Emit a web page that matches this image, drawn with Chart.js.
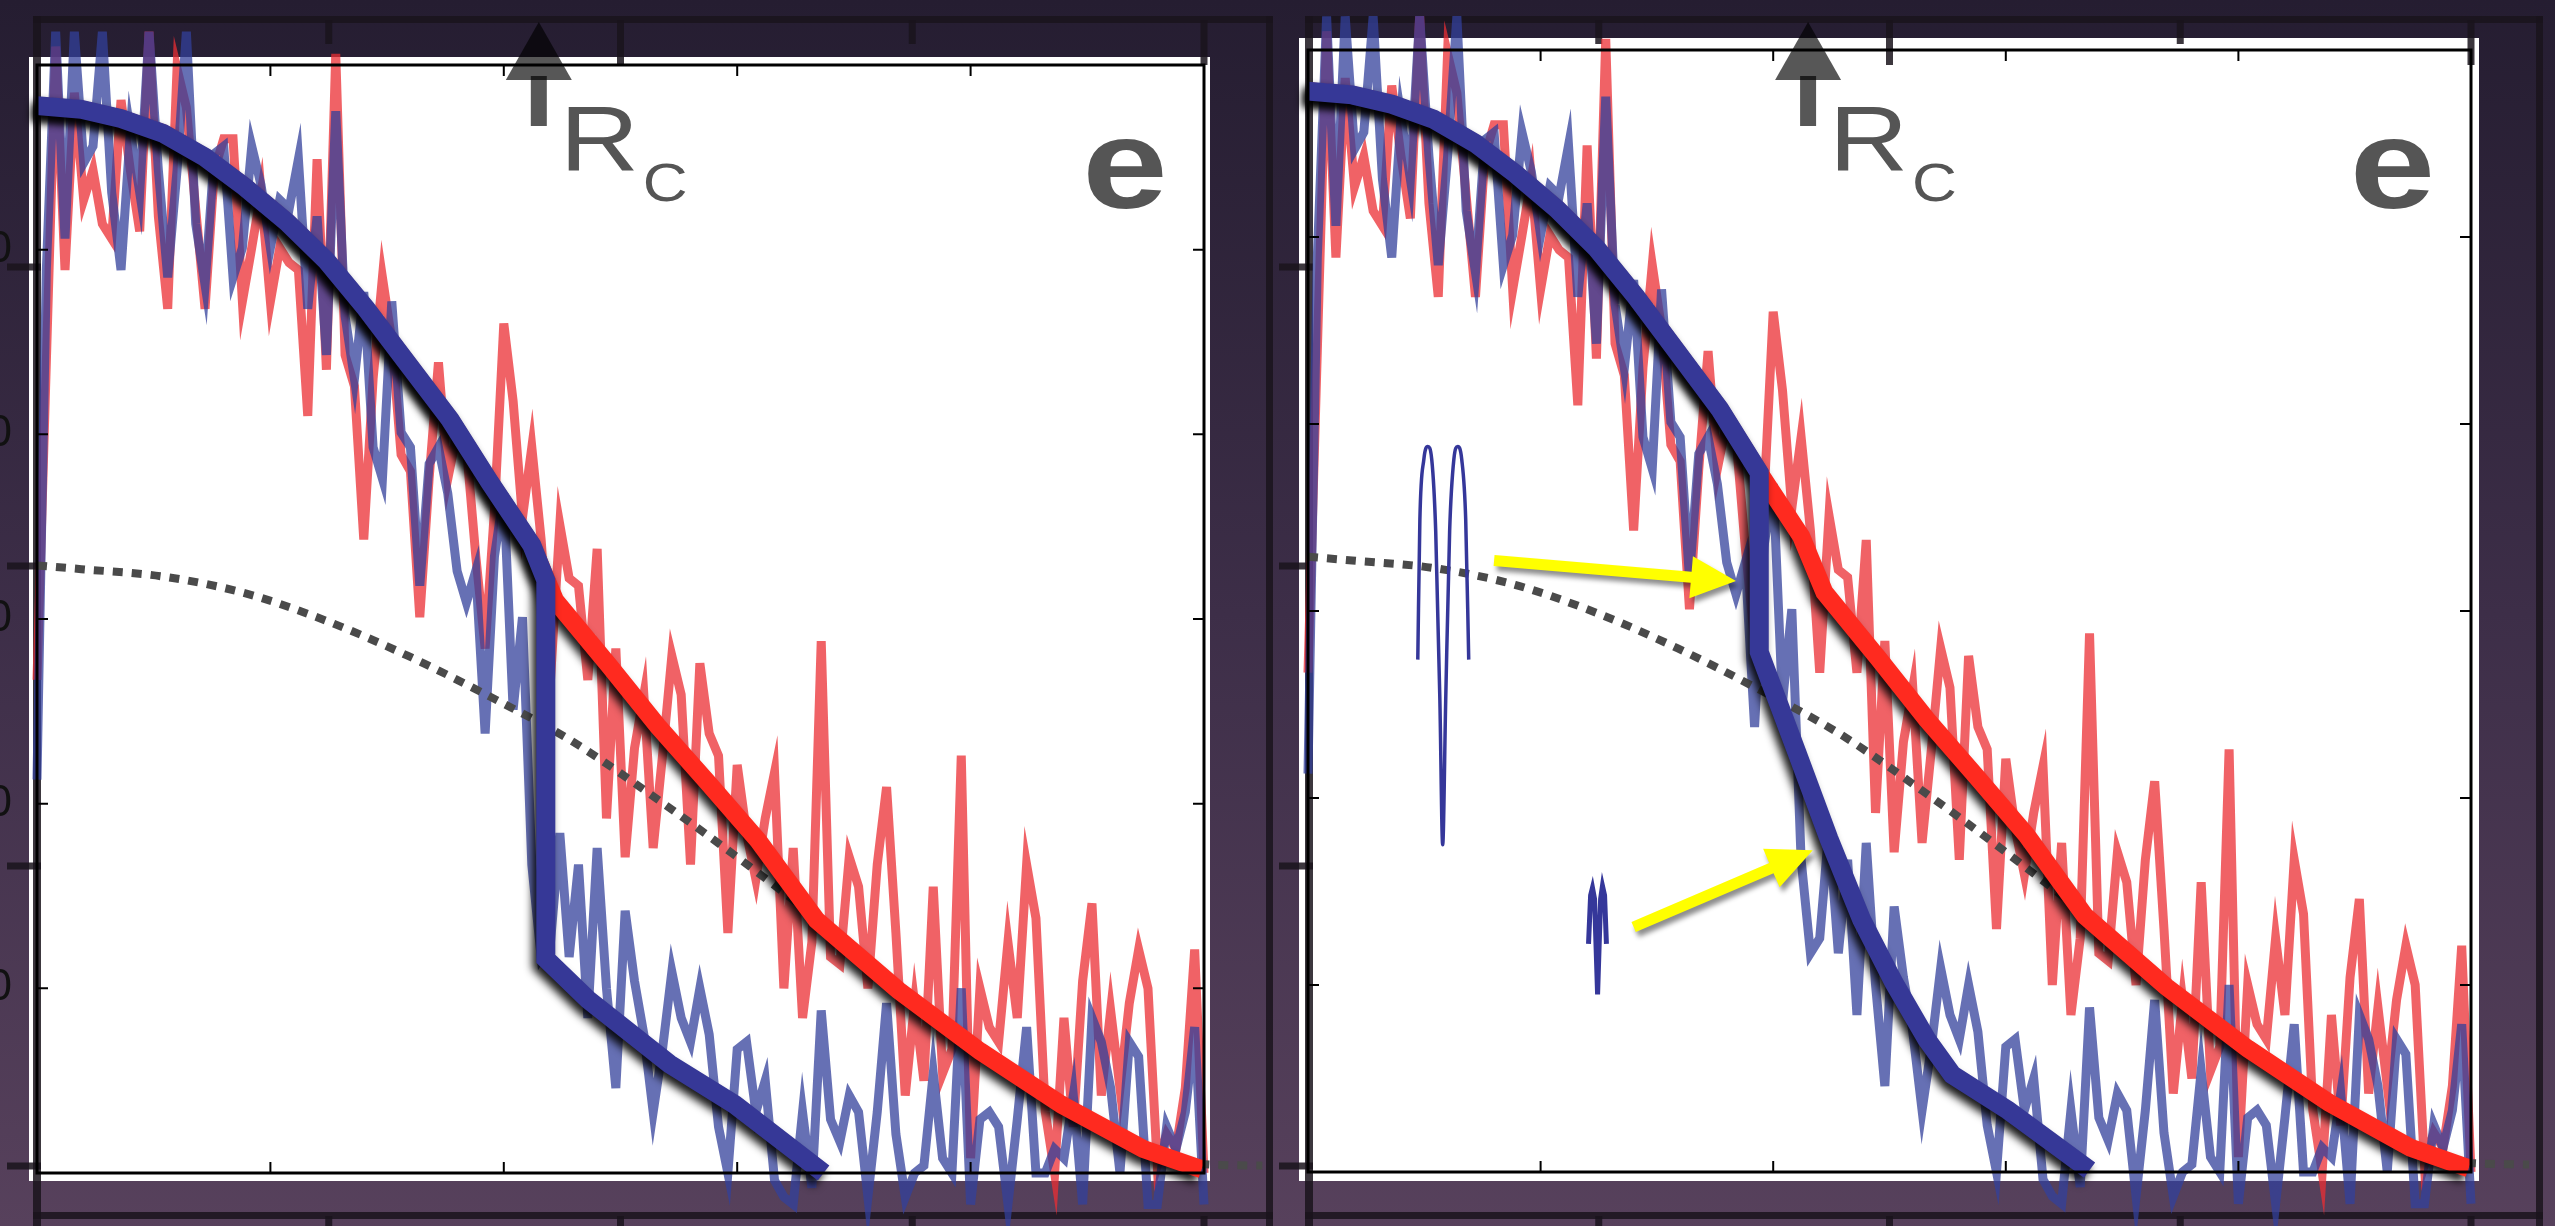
<!DOCTYPE html>
<html>
<head>
<meta charset="utf-8">
<script src="https://cdn.jsdelivr.net/npm/chart.js@4.4.1/dist/chart.umd.min.js"></script>
<style>
  html, body { margin: 0; padding: 0; }
  body {
    width: 2555px; height: 1226px; overflow: hidden; position: relative;
    background: linear-gradient(to bottom, #251d31 0%, #3d2e48 50%, #57415c 100%);
  }
  canvas { position: absolute; top: 0; }
  #left { left: 0; }
  #right { left: 1275px; }
</style>
</head>
<body>
<canvas id="left" width="1275" height="1226"></canvas>
<canvas id="right" width="1280" height="1226"></canvas>
<script>
// noisy profiles, sampled every noiseStep along r
const noiseStep = 0.04;
const redNoise = [2.67, 4.39, 6.10, 4.89, 5.85, 5.27, 5.43, 5.14, 5.06, 5.81,
  5.43, 5.10, 6.18, 5.18, 4.68, 5.98, 5.77, 5.22, 4.68, 5.43,
  5.60, 5.60, 4.72, 5.01, 5.31, 4.72, 5.01, 4.93, 4.89, 4.10,
  5.49, 4.35, 6.06, 4.43, 4.26, 3.43, 4.30, 4.85, 4.51, 3.89,
  3.80, 3.01, 3.76, 4.39, 3.76, 4.01, 3.93, 3.34, 2.84, 3.59,
  4.60, 4.18, 3.55, 3.93, 3.43, 2.67, 3.51, 3.22, 3.18, 2.67,
  3.38, 1.92, 2.84, 1.71, 2.30, 2.59, 1.76, 2.26, 2.80, 2.59,
  1.67, 2.76, 2.38, 2.26, 1.30, 2.21, 1.84, 1.59, 1.92, 2.17,
  1.00, 1.76, 0.84, 1.25, 2.88, 1.17, 1.13, 1.71, 1.55, 1.00,
  1.67, 2.09, 1.30, 0.42, 0.92, 0.50, 1.55, 0.54, 0.67, 2.26,
  0.08, 1.00, 0.79, 0.71, 1.25, 0.84, 1.67, 1.38, 0.33, 0.00,
  0.84, 0.25, 1.04, 1.46, 0.42, 0.88, 0.46, 0.92, 1.21, 1.00,
  0.04, 0.21, 0.13, 0.46, 1.21, 0.00, 0.50, 0.29, 0.75, 0.08,
  1.13, -0.17];
const blueNoise = [2.13, 4.89, 6.18, 5.06, 6.18, 5.47, 5.56, 6.18, 5.31, 4.89,
  5.64, 5.31, 6.18, 5.43, 4.85, 5.43, 6.18, 5.14, 4.81, 5.52,
  5.56, 4.85, 5.01, 5.56, 5.35, 5.01, 5.27, 5.22, 5.49, 4.68,
  5.18, 4.43, 5.75, 4.64, 4.30, 4.77, 3.93, 3.76, 4.72, 4.01,
  3.93, 3.18, 3.84, 3.93, 3.68, 3.26, 3.09, 3.26, 2.38, 3.34,
  3.68, 2.51, 3.01, 1.67, 1.17, 1.25, 1.84, 1.17, 1.67, 0.84,
  1.76, 1.00, 0.46, 1.42, 1.04, 0.75, 0.33, 0.67, 1.09, 0.84,
  0.71, 1.00, 0.75, 0.25, 0.00, 0.67, 0.71, 0.33, 0.50, -0.04,
  -0.13, -0.17, 0.33, -0.08, 0.88, 0.29, 0.17, 0.42, 0.33, -0.13,
  0.33, 0.92, 0.21, -0.13, 0.00, 0.04, 0.54, 0.08, 0.00, 1.00,
  -0.17, 0.29, 0.33, 0.25, -0.17, 0.29, 0.79, 0.00, 0.00, 0.13,
  0.08, 0.42, -0.17, 0.84, 0.71, 0.46, 0.00, 0.71, 0.63, -0.17,
  -0.17, 0.25, 0.13, 0.33, 0.79, -0.17, 0.50, 0.17, 0.67, -0.08,
  0.92, -0.17];

// fitted curves
const fitUpperX = [0, 0.19, 0.36, 0.54, 0.72, 0.89, 1.07, 1.24, 1.41, 1.59, 1.77, 1.94, 2.12];
const fitUpperY = [5.78, 5.76, 5.71, 5.63, 5.50, 5.34, 5.15, 4.94, 4.68, 4.38, 4.08, 3.74, 3.40];
const redTailX = [2.22, 2.45, 2.66, 2.87, 3.09, 3.34, 3.69, 4.04, 4.39, 4.74, 4.99];
const redTailY = [3.10, 2.75, 2.42, 2.12, 1.80, 1.37, 0.99, 0.66, 0.37, 0.13, 0.02];
const blueDropLeftX = [2.18, 2.18, 2.36, 2.71, 2.99, 3.37];
const blueDropLeftY = [3.21, 1.16, 0.94, 0.59, 0.37, 0.00];
const blueDropRightX = [1.94, 2.10, 2.24, 2.38, 2.52, 2.66, 2.77, 3.01, 3.36];
const blueDropRightY = [2.78, 2.25, 1.78, 1.35, 1.01, 0.71, 0.52, 0.33, 0.01];

// dotted reference curve
const modelX = [0, 0.19, 0.54, 0.89, 1.24, 1.59, 1.94, 2.29, 2.64, 2.99, 3.34, 3.69, 4.04, 4.39, 4.74, 4.98, 5.25];
const modelY = [3.29, 3.27, 3.23, 3.14, 2.99, 2.80, 2.58, 2.34, 2.04, 1.72, 1.38, 1.02, 0.69, 0.40, 0.15, 0.05, 0.04];

// small wave sketches in the right panel
const glyphAX = [0.472, 0.481, 0.498, 0.515, 0.532, 0.549, 0.567, 0.579, 0.592, 0.609, 0.627, 0.644, 0.661, 0.678, 0.691];
const glyphAY = [2.74, 3.49, 3.81, 3.88, 3.81, 3.43, 2.52, 1.75, 2.52, 3.43, 3.81, 3.88, 3.81, 3.49, 2.74];
const glyphBX = [1.206, 1.215, 1.223, 1.232, 1.245, 1.258, 1.266, 1.275, 1.283];
const glyphBY = [1.22, 1.48, 1.52, 1.46, 0.95, 1.46, 1.53, 1.48, 1.22];

// yellow arrows (right panel)
const arrowFromX = [0.80, 1.40];
const arrowFromY = [3.27, 1.31];
const arrowToX = [1.84, 2.17];
const arrowToY = [3.16, 1.72];

// ticks
const xTicks = [1, 2, 3, 4];
const yTicks = [1, 2, 3, 4, 5];
const outerTicksX = [1.25, 2.5, 3.75, 5];
const outerTicksY = [267, 566, 866, 1166];
const rcX = 2.15;
const labelX = 4.5;

const pts = (xs, ys) => xs.map((x, i) => ({ x: x, y: ys[i] }));
const noisePts = (vals) => vals.map((v, i) => ({ x: +(i * noiseStep).toFixed(2), y: v }));

const shadowPlugin = {
  id: 'fitShadow',
  beforeDatasetDraw(chart, args) {
    if (!chart.data.datasets[args.index].shadow) return;
    const ctx = chart.ctx;
    ctx.save();
    ctx.shadowColor = 'rgba(0,0,0,0.9)';
    ctx.shadowBlur = 9;
    ctx.shadowOffsetX = -4;
    ctx.shadowOffsetY = 6;
  },
  afterDatasetDraw(chart, args) {
    if (chart.data.datasets[args.index].shadow) chart.ctx.restore();
  }
};

function drawArrow(ctx, x1, y1, x2, y2) {
  const len = Math.hypot(x2 - x1, y2 - y1);
  const ux = (x2 - x1) / len, uy = (y2 - y1) / len;
  const nx = -uy, ny = ux;
  const head = 45, hw = 21, sw = 5.5;
  const bx = x2 - ux * head, by = y2 - uy * head;
  ctx.beginPath();
  ctx.moveTo(x1 + nx * sw, y1 + ny * sw);
  ctx.lineTo(bx + nx * sw, by + ny * sw);
  ctx.lineTo(bx + nx * hw, by + ny * hw);
  ctx.lineTo(x2, y2);
  ctx.lineTo(bx - nx * hw, by - ny * hw);
  ctx.lineTo(bx - nx * sw, by - ny * sw);
  ctx.lineTo(x1 - nx * sw, y1 - ny * sw);
  ctx.closePath();
  ctx.fill();
}

function framePlugin(cfg) {
  return {
    id: 'frame',
    beforeDatasetsDraw(chart) {
      const { ctx, chartArea: a, scales: { x } } = chart;
      const p = cfg.paper, f = cfg.outer;
      ctx.save();
      ctx.fillStyle = '#ffffff';
      ctx.fillRect(a.left - p[0], a.top - p[1], a.width + p[0] + p[2], a.height + p[1] + p[3]);
      ctx.fillStyle = 'rgba(26, 20, 28, 0.85)';
      ctx.fillRect(f.left, 16, f.right - f.left, 7);
      ctx.fillRect(f.left, 1212, f.right - f.left, 7);
      ctx.fillRect(f.left, 16, 8, 1210);
      ctx.fillRect(f.right - 7, 16, 7, 1210);
      outerTicksY.forEach(py => ctx.fillRect(f.left - 26, py - 3.5, 34, 7));
      outerTicksX.forEach((u, i) => {
        const px = x.getPixelForValue(u);
        ctx.fillRect(px - 3.5, 20, 7, i % 2 ? 45 : 24);
        ctx.fillRect(px - 3.5, 1216, 7, 10);
      });
      if (cfg.cutLabels) {
        ctx.fillStyle = '#111';
        ctx.font = '44px "Liberation Sans"';
        ctx.textAlign = 'right';
        ctx.textBaseline = 'middle';
        yTicks.forEach(v => ctx.fillText('0', 12, chart.scales.y.getPixelForValue(v)));
      }
      ctx.restore();
    },
    afterDatasetsDraw(chart) {
      const { ctx, chartArea: a, scales: { x, y } } = chart;
      ctx.save();
      // axis box with inward ticks
      ctx.strokeStyle = '#000';
      ctx.lineWidth = 3;
      ctx.strokeRect(a.left, a.top, a.width, a.height);
      ctx.lineWidth = 2;
      ctx.beginPath();
      xTicks.forEach(v => {
        const px = x.getPixelForValue(v);
        ctx.moveTo(px, a.top); ctx.lineTo(px, a.top + 11);
        ctx.moveTo(px, a.bottom); ctx.lineTo(px, a.bottom - 11);
      });
      yTicks.forEach(v => {
        const py = y.getPixelForValue(v);
        ctx.moveTo(a.left, py); ctx.lineTo(a.left + 11, py);
        ctx.moveTo(a.right, py); ctx.lineTo(a.right - 11, py);
      });
      ctx.stroke();

      // R_C marker
      const rx = x.getPixelForValue(rcX);
      ctx.fillStyle = 'rgba(0,0,0,0.66)';
      ctx.fillRect(rx - 8, 76, 16, 50);
      ctx.beginPath();
      ctx.moveTo(rx, 22);
      ctx.lineTo(rx - 33, 80);
      ctx.lineTo(rx + 33, 80);
      ctx.closePath();
      ctx.fill();
      ctx.fillStyle = '#555555';
      ctx.textAlign = 'left';
      ctx.textBaseline = 'alphabetic';
      ctx.save();
      ctx.translate(rx + 21, 171);
      ctx.scale(1.18, 1);
      ctx.font = '93px "Liberation Sans"';
      ctx.fillText('R', 0, 0);
      ctx.restore();
      ctx.save();
      ctx.translate(rx + 104, 201);
      ctx.scale(1.15, 1);
      ctx.font = '54px "Liberation Sans"';
      ctx.fillText('C', 0, 0);
      ctx.restore();

      // panel letter
      ctx.save();
      ctx.translate(x.getPixelForValue(labelX) - 5, 208);
      ctx.scale(1.2, 1);
      ctx.font = 'bold 128px "Liberation Sans"';
      ctx.fillText('e', 0, 0);
      ctx.restore();

      if (cfg.arrows) {
        ctx.fillStyle = '#ffff00';
        ctx.shadowColor = 'rgba(0,0,0,0.45)';
        ctx.shadowBlur = 5;
        ctx.shadowOffsetX = 3;
        ctx.shadowOffsetY = 5;
        arrowFromX.forEach((u, i) => {
          drawArrow(ctx, x.getPixelForValue(u), y.getPixelForValue(arrowFromY[i]),
            x.getPixelForValue(arrowToX[i]), y.getPixelForValue(arrowToY[i]));
        });
      }
      ctx.restore();
    }
  };
}

function makePanel(id, cfg) {
  const datasets = [];
  if (cfg.glyphs) {
    datasets.push(
      { label: 'sketch a', data: pts(glyphAX, glyphAY), borderColor: '#35379a', borderWidth: 3.5, order: 0, clip: false, cubicInterpolationMode: 'monotone' },
      { label: 'sketch b', data: pts(glyphBX, glyphBY), borderColor: '#35379a', borderWidth: 5, order: 0, clip: false }
    );
  }
  datasets.push(
    { label: 'blue fit', data: cfg.blueFit, borderColor: '#363897', borderWidth: 19, order: 1, shadow: true, clip: false },
    { label: 'red fit', data: pts(fitUpperX.concat(redTailX), fitUpperY.concat(redTailY)), borderColor: '#ff2a1f', borderWidth: 18, order: 2, shadow: true, clip: false },
    { label: 'model', data: pts(modelX, modelY), borderColor: '#4a4a4a', borderWidth: 8, borderDash: [10, 9], order: 3, clip: false, cubicInterpolationMode: 'monotone' },
    { label: 'blue data', data: noisePts(blueNoise), borderColor: 'rgba(51, 64, 155, 0.75)', borderWidth: 9, order: 4, clip: false },
    { label: 'red data', data: noisePts(redNoise), borderColor: 'rgba(235, 45, 51, 0.75)', borderWidth: 9, order: 5, clip: false }
  );
  return new Chart(document.getElementById(id), {
    type: 'line',
    data: { datasets: datasets },
    options: {
      responsive: false,
      animation: false,
      events: [],
      layout: { padding: cfg.padding },
      elements: { point: { radius: 0 }, line: { tension: 0, fill: false } },
      plugins: { legend: { display: false }, tooltip: { enabled: false } },
      scales: {
        x: { type: 'linear', min: 0, max: 5, display: false },
        y: { type: 'linear', min: 0, max: 6, display: false }
      }
    },
    plugins: [framePlugin(cfg), shadowPlugin]
  });
}

const upperToRc = fitUpperX.filter(v => v <= 1.94);
makePanel('left', {
  padding: { left: 37, right: 71, top: 65, bottom: 53 },
  paper: [8, 8, 6, 8],
  outer: { left: 33, right: 1273 },
  cutLabels: true,
  blueFit: pts(fitUpperX.concat(blueDropLeftX), fitUpperY.concat(blueDropLeftY))
});
makePanel('right', {
  padding: { left: 33, right: 84, top: 50, bottom: 54 },
  paper: [9, 12, 8, 9],
  outer: { left: 30, right: 1268 },
  arrows: true,
  glyphs: true,
  blueFit: pts(upperToRc.concat(blueDropRightX), fitUpperY.slice(0, upperToRc.length).concat(blueDropRightY))
});
</script>
</body>
</html>
